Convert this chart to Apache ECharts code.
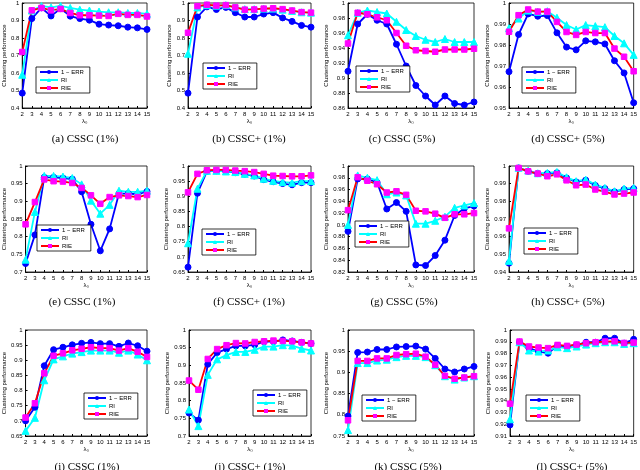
<!DOCTYPE html>
<html>
<head>
<meta charset="utf-8">
<script src="https://cdn.jsdelivr.net/npm/echarts@6/dist/echarts.min.js"></script>
<style>
  html, body { margin: 0; padding: 0; background: #fff; }
  #chart { width: 640px; height: 470px; }
</style>
</head>
<body>
<div id="chart"></div>
<script>
// lambda_0 values on the x axis
const lambdas = [2, 3, 4, 5, 6, 7, 8, 9, 10, 11, 12, 13, 14, 15];
const seriesNames = ["1 − ERR", "RI", "RIE"];

// (a) CSSC (1%)
const errA = [0.485, 0.911, 0.972, 0.926, 0.968, 0.925, 0.911, 0.902, 0.879, 0.874, 0.870, 0.862, 0.858, 0.849];
const riA  = [0.590, 0.957, 0.983, 0.975, 0.983, 0.972, 0.962, 0.957, 0.951, 0.947, 0.947, 0.943, 0.943, 0.938];
const rieA = [0.720, 0.958, 0.972, 0.958, 0.966, 0.943, 0.930, 0.930, 0.928, 0.926, 0.938, 0.932, 0.932, 0.923];
// (b) CSSC+ (1%)
const errB = [0.485, 0.920, 0.978, 0.963, 0.975, 0.945, 0.920, 0.920, 0.937, 0.945, 0.915, 0.895, 0.872, 0.862];
const riB  = [0.710, 0.975, 0.988, 0.985, 0.988, 0.975, 0.965, 0.965, 0.968, 0.968, 0.962, 0.955, 0.947, 0.945];
const rieB = [0.830, 0.982, 0.990, 0.985, 0.988, 0.975, 0.962, 0.963, 0.968, 0.970, 0.965, 0.957, 0.948, 0.945];
// (c) CSSC (5%)
const errC = [0.909, 0.972, 0.985, 0.977, 0.972, 0.945, 0.916, 0.890, 0.876, 0.864, 0.876, 0.866, 0.864, 0.868];
const riC  = [0.957, 0.987, 0.990, 0.988, 0.986, 0.975, 0.964, 0.956, 0.951, 0.948, 0.952, 0.948, 0.948, 0.948];
const rieC = [0.946, 0.987, 0.985, 0.981, 0.977, 0.960, 0.943, 0.937, 0.936, 0.935, 0.938, 0.938, 0.938, 0.939];
// (d) CSSC+ (5%)
const errD = [0.9673, 0.9850, 0.9948, 0.9937, 0.9940, 0.9858, 0.9790, 0.9777, 0.9820, 0.9815, 0.9805, 0.9725, 0.9667, 0.9525];
const riD  = [0.9880, 0.9926, 0.9964, 0.9958, 0.9961, 0.9930, 0.9895, 0.9874, 0.9895, 0.9890, 0.9885, 0.9843, 0.9808, 0.9753];
const rieD = [0.9863, 0.9942, 0.9969, 0.9959, 0.9959, 0.9910, 0.9862, 0.9848, 0.9862, 0.9857, 0.9857, 0.9783, 0.9744, 0.9675];
// (e) CSSC (1%)
const errE = [0.724, 0.805, 0.968, 0.968, 0.966, 0.963, 0.927, 0.835, 0.760, 0.822, 0.922, 0.922, 0.920, 0.928];
const riE  = [0.735, 0.870, 0.972, 0.972, 0.970, 0.966, 0.948, 0.902, 0.865, 0.890, 0.930, 0.927, 0.927, 0.930];
const rieE = [0.835, 0.898, 0.962, 0.957, 0.956, 0.952, 0.938, 0.917, 0.893, 0.912, 0.917, 0.915, 0.912, 0.918];
// (f) CSSC+ (1%)
const errF = [0.666, 0.910, 0.982, 0.984, 0.982, 0.978, 0.973, 0.967, 0.955, 0.948, 0.942, 0.938, 0.945, 0.945];
const riF  = [0.745, 0.925, 0.984, 0.984, 0.982, 0.980, 0.974, 0.969, 0.958, 0.951, 0.947, 0.945, 0.950, 0.950];
const rieF = [0.913, 0.974, 0.986, 0.987, 0.987, 0.985, 0.983, 0.980, 0.974, 0.968, 0.967, 0.966, 0.966, 0.969];
// (g) CSSC (5%)
const errG = [0.889, 0.978, 0.978, 0.972, 0.927, 0.938, 0.923, 0.832, 0.831, 0.848, 0.874, 0.916, 0.928, 0.932];
const riG  = [0.900, 0.984, 0.980, 0.976, 0.952, 0.955, 0.950, 0.902, 0.902, 0.907, 0.914, 0.929, 0.933, 0.937];
const rieG = [0.925, 0.981, 0.975, 0.969, 0.955, 0.957, 0.951, 0.924, 0.923, 0.919, 0.912, 0.918, 0.918, 0.920];
// (h) CSSC+ (5%)
const errH = [0.9450, 0.9989, 0.9970, 0.9957, 0.9957, 0.9962, 0.9932, 0.9910, 0.9920, 0.9890, 0.9872, 0.9854, 0.9867, 0.9872];
const riH  = [0.9463, 0.9990, 0.9974, 0.9959, 0.9961, 0.9966, 0.9936, 0.9914, 0.9923, 0.9895, 0.9876, 0.9857, 0.9872, 0.9876];
const rieH = [0.9647, 0.9989, 0.9970, 0.9957, 0.9942, 0.9953, 0.9919, 0.9891, 0.9895, 0.9867, 0.9854, 0.9839, 0.9844, 0.9850];
// (i) CSSC (1%)
const errI = [0.700, 0.745, 0.882, 0.935, 0.943, 0.951, 0.956, 0.959, 0.955, 0.955, 0.946, 0.957, 0.948, 0.930];
const riI  = [0.667, 0.710, 0.834, 0.903, 0.913, 0.922, 0.927, 0.932, 0.932, 0.932, 0.925, 0.932, 0.919, 0.900];
const rieI = [0.711, 0.758, 0.857, 0.915, 0.923, 0.933, 0.938, 0.943, 0.940, 0.940, 0.932, 0.940, 0.928, 0.911];
// (j) CSSC+ (1%)
const errJ = [0.765, 0.745, 0.903, 0.936, 0.946, 0.955, 0.955, 0.958, 0.967, 0.967, 0.972, 0.969, 0.965, 0.962];
const riJ  = [0.775, 0.728, 0.873, 0.917, 0.929, 0.938, 0.938, 0.944, 0.953, 0.953, 0.957, 0.956, 0.947, 0.942];
const rieJ = [0.857, 0.831, 0.918, 0.946, 0.957, 0.963, 0.962, 0.966, 0.968, 0.970, 0.969, 0.968, 0.965, 0.962];
// (k) CSSC (5%)
const errK = [0.797, 0.947, 0.948, 0.954, 0.954, 0.960, 0.961, 0.962, 0.955, 0.933, 0.908, 0.901, 0.908, 0.914];
const riK  = [0.764, 0.922, 0.922, 0.928, 0.930, 0.936, 0.939, 0.939, 0.936, 0.917, 0.891, 0.883, 0.888, 0.891];
const rieK = [0.787, 0.927, 0.927, 0.933, 0.933, 0.941, 0.943, 0.944, 0.937, 0.918, 0.892, 0.885, 0.888, 0.891];
// (l) CSSC+ (5%)
const errL = [0.9194, 0.9896, 0.9846, 0.9817, 0.9803, 0.9868, 0.9860, 0.9873, 0.9896, 0.9896, 0.9930, 0.9930, 0.9888, 0.9921];
const riL  = [0.9242, 0.9896, 0.9826, 0.9817, 0.9826, 0.9854, 0.9846, 0.9860, 0.9876, 0.9888, 0.9896, 0.9896, 0.9882, 0.9888];
const rieL = [0.9374, 0.9902, 0.9860, 0.9851, 0.9846, 0.9873, 0.9865, 0.9876, 0.9888, 0.9896, 0.9902, 0.9904, 0.9890, 0.9893];

const captions = ["(a) CSSC (1%)", "(b) CSSC+ (1%)", "(c) CSSC (5%)", "(d) CSSC+ (5%)",
                  "(e) CSSC (1%)", "(f) CSSC+ (1%)", "(g) CSSC (5%)", "(h) CSSC+ (5%)",
                  "(i) CSSC (1%)", "(j) CSSC+ (1%)", "(k) CSSC (5%)", "(l) CSSC+ (5%)"];
const yMins      = [0.4, 0.4, 0.86, 0.95, 0.7, 0.65, 0.82, 0.94, 0.65, 0.7, 0.75, 0.91];
const yIntervals = [0.1, 0.1, 0.02, 0.01, 0.05, 0.05, 0.02, 0.01, 0.05, 0.05, 0.05, 0.01];
const panelData = [
  [errA, riA, rieA], [errB, riB, rieB], [errC, riC, rieC], [errD, riD, rieD],
  [errE, riE, rieE], [errF, riF, rieF], [errG, riG, rieG], [errH, riH, rieH],
  [errI, riI, rieI], [errJ, riJ, rieJ], [errK, riK, rieK], [errL, riL, rieL]
];

// layout (pixels)
const plotLeft  = [[20, 188, 348, 509], [20, 188, 348, 509], [21, 189, 348, 510]];
const plotRight = [147, 311, 474, 637];
const rowTop = [2, 166, 330];
const plotH = 106;
const capX = [[80, 244, 397, 563], [77, 244, 399, 563], [82, 245, 403, 567]];
const capY = [129, 292, 457];
const legendPos = [
  [36, 67], [203, 63], [356, 66], [522, 67],
  [37, 225], [202, 229], [355, 221], [524, 228],
  [84, 393], [253, 390], [362, 395], [526, 395]
];

const styles = [
  { color: "#0000ff", line: "#0000ff", symbol: "circle", size: 6 },
  { color: "#00ffff", line: "#00ffff", symbol: "triangle", size: 7 },
  { color: "#ff00ff", line: "#ff0000", symbol: "rect", size: 5.5 }
];

const font = "Liberation Sans, Arial, sans-serif";
let grids = [], xAxes = [], yAxes = [], titles = [], legends = [], series = [];

for (let p = 0; p < 12; p++) {
  let r = Math.floor(p / 4), c = p % 4;
  let left = plotLeft[r][c];
  grids.push({
    left: left, top: rowTop[r], width: plotRight[c] - left, height: plotH,
    show: true, borderColor: "#000", borderWidth: 0.8, backgroundColor: "#fff"
  });
  xAxes.push({
    type: "value", gridIndex: p, min: 2, max: 15, interval: 1,
    name: "λ₀", nameLocation: "middle", nameGap: 10,
    nameTextStyle: { fontSize: 6, fontFamily: font, color: "#000" },
    axisLine: { lineStyle: { color: "#000", width: 0.8 } },
    axisTick: { inside: true, length: 2, lineStyle: { color: "#000" } },
    axisLabel: { fontSize: 6, fontFamily: font, color: "#000", margin: 3 },
    splitLine: { show: false }
  });
  yAxes.push({
    type: "value", gridIndex: p, min: yMins[p], max: 1, interval: yIntervals[p],
    name: "Clustering performance", nameLocation: "middle", nameGap: 15,
    nameTextStyle: { fontSize: 6, fontFamily: font, color: "#000" },
    axisLine: { lineStyle: { color: "#000", width: 0.8 } },
    axisTick: { inside: true, length: 2, lineStyle: { color: "#000" } },
    axisLabel: { fontSize: 6, fontFamily: font, color: "#000", margin: 3 },
    splitLine: { show: false }
  });
  titles.push({
    text: captions[p], left: capX[r][c], top: capY[r], textAlign: "center",
    textStyle: { fontSize: 11, fontWeight: "normal", fontFamily: "Liberation Serif, Times New Roman, serif", color: "#000" }
  });
  legends.push({
    left: legendPos[p][0], top: legendPos[p][1], orient: "vertical",
    data: seriesNames, backgroundColor: "#fff", borderColor: "#000", borderWidth: 0.8,
    padding: [2, 6, 2, 3], itemGap: 2, itemWidth: 18, itemHeight: 5,
    textStyle: { fontSize: 6, fontFamily: font, color: "#000", padding: [0, 0, 0, -2] },
    selectedMode: false, z: 10
  });
  for (let s = 0; s < 3; s++) {
    let vals = panelData[p][s];
    let pts = [];
    for (let i = 0; i < lambdas.length; i++) pts.push([lambdas[i], vals[i]]);
    series.push({
      name: seriesNames[s], type: "line", xAxisIndex: p, yAxisIndex: p,
      data: pts, symbol: styles[s].symbol, symbolSize: styles[s].size,
      lineStyle: { color: styles[s].line, width: 1.8 },
      itemStyle: { color: styles[s].color, borderColor: styles[s].color },
      animation: false
    });
  }
}

let myChart = echarts.init(document.getElementById("chart"));
myChart.setOption({
  animation: false,
  title: titles,
  legend: legends,
  grid: grids,
  xAxis: xAxes,
  yAxis: yAxes,
  series: series
});
</script>
</body>
</html>
